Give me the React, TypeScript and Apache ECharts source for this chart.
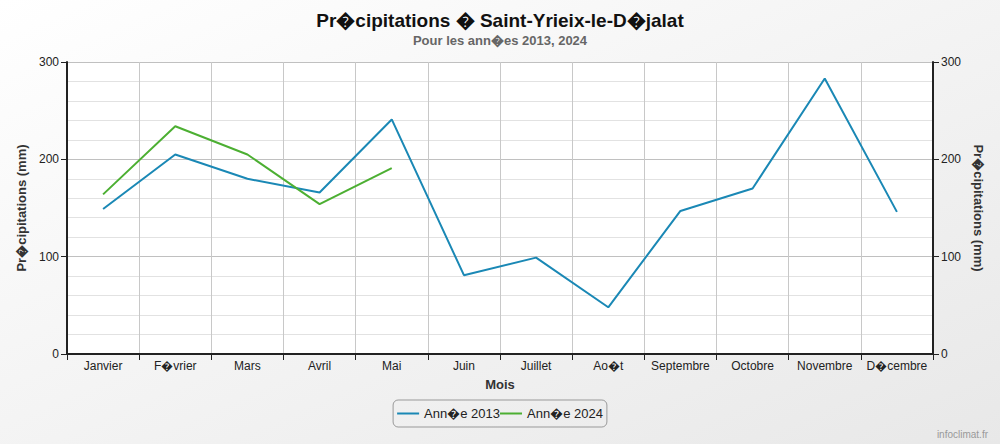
import React, { useEffect, useRef } from "react";
import * as echarts from "echarts";

const R = "\uFFFD";
const months = ["Janvier", `F${R}vrier`, "Mars", "Avril", "Mai", "Juin", "Juillet", `Ao${R}t`, "Septembre", "Octobre", "Novembre", `D${R}cembre`];
const values2013 = [149, 205, 180, 166, 241, 81, 99, 48, 147, 170, 283, 146];
const values2024 = [164, 234, 205, 154, 191];
const seriesNames = [`Ann${R}e 2013`, `Ann${R}e 2024`];
const yTicks = { min: 0, max: 300, interval: 100 };

const FONT = "'Liberation Sans', Arial, sans-serif";
const NARROW = "'Liberation Sans Narrow', 'Liberation Sans', Arial, sans-serif";

export default function App() {
  const ref = useRef<HTMLDivElement>(null);
  useEffect(() => {
    const chart = echarts.init(ref.current!, null, { renderer: "svg" });
    const yName = `Pr${R}cipitations (mm)`;
    const yCommon = {
      type: "value",
      min: yTicks.min,
      max: yTicks.max,
      interval: yTicks.interval,
      nameLocation: "middle",
      nameTextStyle: { fontFamily: FONT, fontSize: 13, fontWeight: "bold", color: "#333" },
      axisLine: { show: true, lineStyle: { color: "#222", width: 2 } },
      axisTick: { show: true, length: 6, lineStyle: { color: "#222" } },
      axisLabel: { fontFamily: FONT, fontSize: 12, color: "#222" },
    };
    chart.setOption({
      animation: false,
      backgroundColor: new echarts.graphic.LinearGradient(0, 0, 1, 1, [
        { offset: 0, color: "#ffffff" },
        { offset: 1, color: "#e8e8e8" },
      ]),
      title: {
        text: `Pr${R}cipitations ${R} Saint-Yrieix-le-D${R}jalat`,
        subtext: `Pour les ann${R}es 2013, 2024`,
        left: "center",
        top: 6,
        itemGap: 4,
        textStyle: { fontFamily: NARROW, fontSize: 19, fontWeight: "bold", color: "#111" },
        subtextStyle: { fontFamily: NARROW, fontSize: 13, fontWeight: "bold", color: "#666" },
      },
      grid: { left: 67, right: 67, top: 62, bottom: 90, show: true, backgroundColor: "#ffffff", borderWidth: 0 },
      legend: {
        bottom: 17,
        left: "center",
        itemGap: 0,
        itemWidth: 22,
        itemHeight: 2,
        borderColor: "#999",
        borderWidth: 1,
        borderRadius: 5,
        padding: [7, 4, 7, 4],
        textStyle: { fontFamily: FONT, fontSize: 13, color: "#222" },
        data: seriesNames.map((n) => ({ name: n, icon: "rect" })),
      },
      xAxis: {
        type: "category",
        data: months,
        boundaryGap: true,
        name: "Mois",
        nameLocation: "middle",
        nameGap: 24,
        nameTextStyle: { fontFamily: FONT, fontSize: 13, fontWeight: "bold", color: "#333" },
        axisLine: { show: true, lineStyle: { color: "#222", width: 2 } },
        axisTick: { show: true, length: 6, alignWithLabel: false, lineStyle: { color: "#222" } },
        axisLabel: { fontFamily: FONT, fontSize: 12, color: "#222", interval: 0, margin: 6 },
        splitLine: { show: true, lineStyle: { color: "#c8c8c8", width: 1 } },
      },
      yAxis: [
        {
          ...yCommon,
          position: "left",
          name: yName,
          nameGap: 38,
          splitLine: { show: true, lineStyle: { color: "#c0c0c0", width: 1 } },
          minorTick: { show: false, splitNumber: 5 },
          minorSplitLine: { show: true, lineStyle: { color: "#e2e2e2", width: 1 } },
        },
        {
          ...yCommon,
          position: "right",
          name: yName,
          nameGap: 38,
          nameRotate: -90,
          splitLine: { show: false },
        },
      ],
      series: [
        {
          name: seriesNames[0],
          type: "line",
          data: values2013,
          showSymbol: false,
          symbol: "none",
          lineStyle: { color: "#1a88b5", width: 2 },
          itemStyle: { color: "#1a88b5" },
        },
        {
          name: seriesNames[1],
          type: "line",
          data: values2024,
          showSymbol: false,
          symbol: "none",
          lineStyle: { color: "#4caf32", width: 2 },
          itemStyle: { color: "#4caf32" },
        },
      ],
      graphic: [
        {
          type: "text",
          right: 12,
          bottom: 5,
          style: { text: "infoclimat.fr", fontFamily: FONT, fontSize: 10, fill: "#999" },
        },
      ],
    });
    return () => chart.dispose();
  }, []);
  return <div ref={ref} style={{ position: "absolute", left: 0, top: 0, width: 1000, height: 444 }} />;
}
